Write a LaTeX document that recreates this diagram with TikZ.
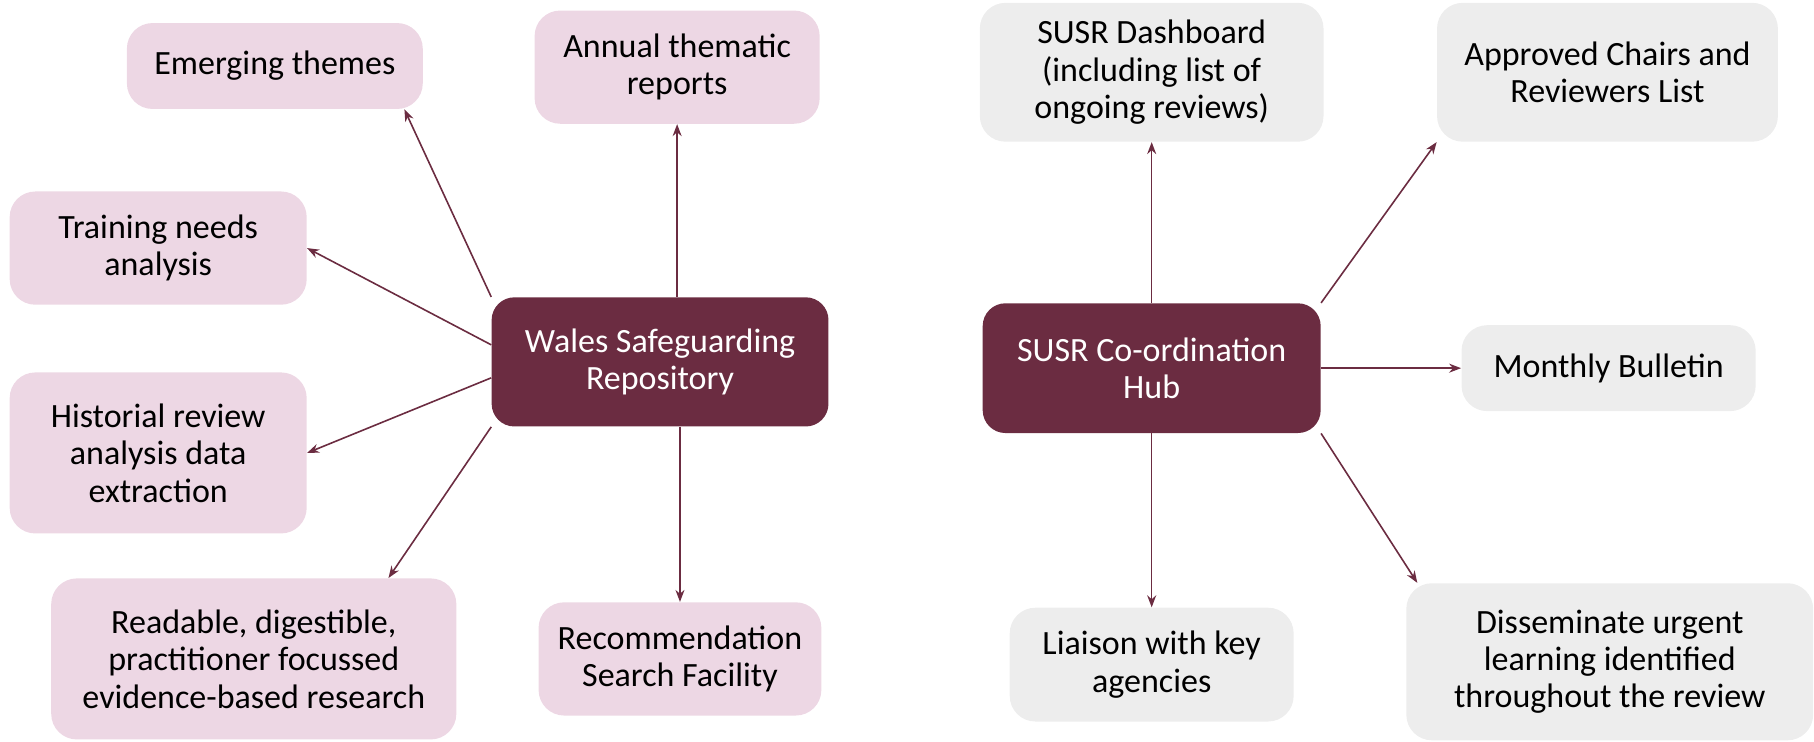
\documentclass[tikz,border=0pt]{standalone}
\usepackage{fontspec}
\setmainfont{Carlito}
\usetikzlibrary{arrows.meta}
\definecolor{wine}{HTML}{6B2C41}
\definecolor{blush}{HTML}{EDD7E4}
\definecolor{mist}{HTML}{EDEDED}
\tikzset{
    leaf/.style={rounded corners=0.45cm, align=center, inner sep=0pt,
        font=\fontsize{17}{18.7}\selectfont},
    pinkleaf/.style={leaf, fill=blush},
    greyleaf/.style={leaf, fill=mist},
    hubbox/.style={leaf, fill=wine, text=white, rounded corners=0.4cm},
    dims/.style 2 args={minimum width=#1cm, minimum height=#2cm},
    spoke/.style={draw=wine, line width=0.8pt, -{Stealth[length=6pt,width=4.5pt]}}
}

\begin{document}
\begin{tikzpicture}
    \useasboundingbox (0,0) rectangle (31.88,-13.04);
    % left hub and its outputs
    \node[hubbox, dims={5.92}{2.27}] (wsr) at (11.60,-6.36) {Wales Safeguarding\\Repository};
    \node[pinkleaf, dims={5.20}{1.51}] (emerge) at (4.83,-1.16) {Emerging themes};
    \node[pinkleaf, dims={5.01}{1.99}] (annual) at (11.90,-1.18) {Annual thematic\\reports};
    \node[pinkleaf, dims={5.22}{1.99}] (training) at (2.78,-4.36) {Training needs\\analysis};
    \node[pinkleaf, dims={5.22}{2.83}] (historial) at (2.78,-7.96) {Historial review\\analysis data\\extraction};
    \node[pinkleaf, dims={7.12}{2.83}] (readable) at (4.46,-11.58) {Readable, digestible,\\practitioner focussed\\evidence-based research};
    \node[pinkleaf, dims={4.97}{1.99}] (recommend) at (11.95,-11.58) {Recommendation\\Search Facility};
    % right hub and its outputs
    \node[hubbox, dims={5.94}{2.28}] (hub) at (20.24,-6.47) {SUSR Co-ordination\\Hub};
    \node[greyleaf, dims={6.04}{2.44}] (dashboard) at (20.24,-1.27) {SUSR Dashboard\\(including list of\\ongoing reviews)};
    \node[greyleaf, dims={5.99}{2.44}] (approved) at (28.25,-1.27) {Approved Chairs and\\Reviewers List};
    \node[greyleaf, dims={5.17}{1.51}] (monthly) at (28.27,-6.47) {Monthly Bulletin};
    \node[greyleaf, dims={4.99}{2.00}] (liaison) at (20.24,-11.68) {Liaison with key\\agencies};
    \node[greyleaf, dims={7.15}{2.76}] (dissem) at (28.29,-11.63) {Disseminate urgent\\learning identified\\throughout the review};

    \draw[spoke] (wsr.north west) -- ([xshift=-0.33cm]emerge.south east);
    \draw[spoke] (annual.south |- wsr.north) -- (annual.south);
    \draw[spoke] ([yshift=0.3cm]wsr.west) -- (training.east);
    \draw[spoke] ([yshift=-0.28cm]wsr.west) -- (historial.east);
    \draw[spoke] (wsr.south west) -- ([xshift=-1.2cm]readable.north east);
    \draw[spoke] (recommend.north |- wsr.south) -- (recommend.north);

    \draw[spoke] (hub.north) -- (dashboard.south);
    \draw[spoke] (hub.north east) -- (approved.south west);
    \draw[spoke] (hub.east) -- (monthly.west);
    \draw[spoke] (hub.south) -- (liaison.north);
    \draw[spoke] (hub.south east) -- ([xshift=0.2cm]dissem.north west);
\end{tikzpicture}
\end{document}
